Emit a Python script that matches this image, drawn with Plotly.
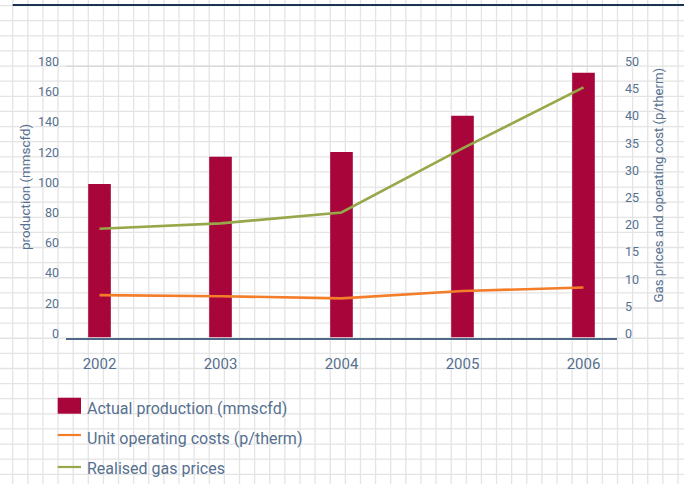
import plotly.graph_objects as go

# ---- data ----
years = ["2002", "2003", "2004", "2005", "2006"]
production = [101.7, 119.7, 122.9, 146.9, 175.4]        # mmscfd (left axis)
unit_costs = [7.8, 7.6, 7.2, 8.55, 9.2]                  # p/therm (right axis)
gas_prices = [20.0, 21.0, 23.0, 34.8, 46.0]              # p/therm (right axis)
series_names = ["Actual production (mmscfd)", "Unit operating costs (p/therm)", "Realised gas prices"]
left_ticks = [0, 20, 40, 60, 80, 100, 120, 140, 160, 180]
right_ticks = [0, 5, 10, 15, 20, 25, 30, 35, 40, 45, 50]

W, H = 684, 484
BAR = "#a8063a"
ORANGE = "#f47d2a"
GREEN = "#96a84a"
TXT = "#56708f"
FONT = "Roboto"

def px(x):
    return x / W

def py(y):
    return 1 - y / H

fig = go.Figure()
fig.add_trace(go.Bar(x=years, y=production, name=series_names[0], marker_color=BAR,
                     marker_line_width=0, width=0.187, yaxis="y"))
fig.add_trace(go.Scatter(x=years, y=unit_costs, name=series_names[1], mode="lines",
                         line=dict(color=ORANGE, width=2.6), yaxis="y2"))
fig.add_trace(go.Scatter(x=years, y=gas_prices, name=series_names[2], mode="lines",
                         line=dict(color=GREEN, width=2.6), yaxis="y2"))

# graph-paper background
step = 15.12
path = []
x = 12.7
while x < W:
    path.append(f"M{px(x):.5f},0 L{px(x):.5f},1")
    x += step
y = 5.6
while y < H:
    path.append(f"M0,{py(y):.5f} L1,{py(y):.5f}")
    y += step
shapes = [
    dict(type="path", path=" ".join(path), xref="paper", yref="paper",
         line=dict(color="#e4e4e4", width=1.3), layer="below"),
    dict(type="line", xref="paper", yref="paper", x0=px(12.7), x1=1, y0=py(5), y1=py(5),
         line=dict(color="#1b3350", width=2), layer="below"),
    dict(type="line", xref="paper", yref="y", x0=px(66), x1=px(617), y0=180, y1=180,
         line=dict(color="#cacaca", width=1.5), layer="below"),
]

# manual legend
sw_x0, sw_x1 = px(57.7), px(81)
shapes.append(dict(type="rect", xref="paper", yref="paper", x0=sw_x0, x1=sw_x1,
                   y0=py(413.7), y1=py(397.7), fillcolor=BAR, line=dict(width=0)))
shapes.append(dict(type="line", xref="paper", yref="paper", x0=sw_x0, x1=sw_x1,
                   y0=py(435), y1=py(435), line=dict(color=ORANGE, width=2.2)))
shapes.append(dict(type="line", xref="paper", yref="paper", x0=sw_x0, x1=sw_x1,
                   y0=py(467), y1=py(467), line=dict(color=GREEN, width=2.2)))

annotations = []
for name, yy in zip(series_names, [408.8, 438.3, 468.8]):
    annotations.append(dict(text=name, xref="paper", yref="paper", x=px(85), y=py(yy),
                            xanchor="left", yanchor="middle", showarrow=False,
                            font=dict(family=FONT, size=16, color=TXT)))
annotations.append(dict(text="production (mmscfd)", xref="paper", yref="paper",
                        x=px(25), y=py(187), textangle=-90, showarrow=False,
                        xanchor="center", yanchor="middle",
                        font=dict(family=FONT, size=13.4, color=TXT)))
annotations.append(dict(text="Gas prices and operating cost (p/therm)", xref="paper", yref="paper",
                        x=px(658), y=py(185.5), textangle=-90, showarrow=False,
                        xanchor="center", yanchor="middle",
                        font=dict(family=FONT, size=13.2, color=TXT)))

fig.update_layout(
    width=W, height=H, autosize=False,
    margin=dict(l=0, r=0, t=0, b=0, pad=0, autoexpand=False),
    paper_bgcolor="white", plot_bgcolor="rgba(0,0,0,0)",
    showlegend=False,
    font=dict(family=FONT, color=TXT),
    xaxis=dict(domain=[px(66), px(617)], range=[-0.277, 4.277], type="category",
               showgrid=False, zeroline=False, showline=True, linecolor="#4f6886", linewidth=1.6,
               ticks="", ticklabelstandoff=12, automargin=False,
               tickfont=dict(family=FONT, size=15, color=TXT)),
    yaxis=dict(domain=[py(337.5), py(65.7)], range=[0, 180], tickvals=left_ticks,
               showgrid=False, zeroline=False, showline=False, ticks="", automargin=False,
               ticklabelstandoff=6, ticklabelshift=-4,
               tickfont=dict(family=FONT, size=12.5, color=TXT)),
    yaxis2=dict(domain=[py(337.5), py(65.7)], range=[0, 50], tickvals=right_ticks,
                overlaying="y", side="right", anchor="x", automargin=False,
                showgrid=False, zeroline=False, showline=False, ticks="",
                ticklabelstandoff=7, ticklabelshift=-4,
                tickfont=dict(family=FONT, size=12.5, color=TXT)),
    shapes=shapes, annotations=annotations,
)

fig.write_html("out.html")
